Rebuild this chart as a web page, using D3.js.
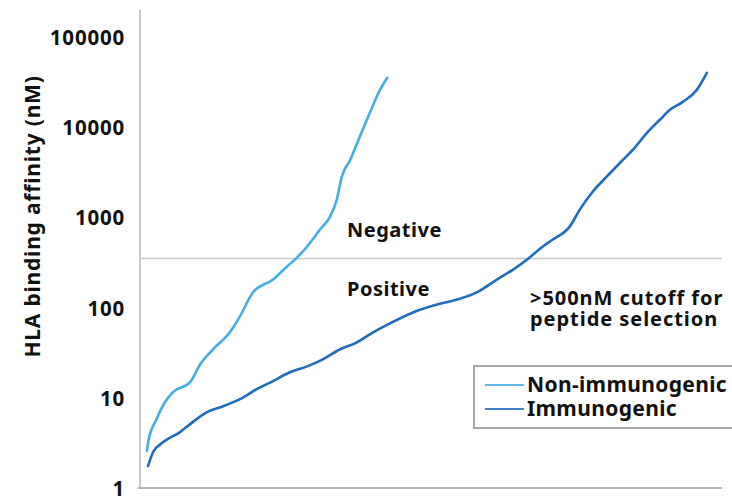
<!DOCTYPE html>
<html>
<head>
<meta charset="utf-8">
<script src="https://cdn.jsdelivr.net/npm/d3@7"></script>
<style>
  html, body { margin: 0; padding: 0; background: #fff; }
  svg { display: block; }
  text { font-family: "Noto Sans", "Open Sans", sans-serif; fill: #111; }
</style>
</head>
<body>
<svg id="chart" width="732" height="500"></svg>
<script>
// ---- data (rank position in %, binding affinity in nM) ----
const nonImmunoRank = [0, 0.2, 1.7, 3.2, 4.6, 7.7, 9.5, 11.8, 14.8, 16.6, 18.9, 22.5, 25.0, 26.8, 28.6, 30.9, 32.7, 33.9, 34.8, 36.3, 38.0, 39.8, 41.6, 42.9];
const nonImmunoNM   = [2.65, 3.31, 5.95, 9.17, 11.8, 15.3, 24.1, 35.4, 54.6, 82, 151, 210, 293, 368, 488, 752, 1047, 1614, 2899, 4467, 8035, 14800, 26600, 36100];

const immunoRank = [0.2, 1.1, 2.9, 5.9, 7.7, 10.7, 13.6, 16.6, 19.6, 22.5, 25.5, 28.6, 31.4, 34.5, 37.5, 40.4, 43.4, 47.5, 51.8, 55.4, 58.9, 62.5, 65.4, 67.9, 70.7, 72.5, 75.5, 77.3, 79.6, 82.1, 84.5, 86.8, 89.3, 91.6, 93.4, 95.7, 98.2, 100];
const immunoNM   = [1.80, 2.57, 3.31, 4.27, 5.24, 7.11, 8.28, 9.90, 12.8, 15.7, 19.7, 22.9, 27.4, 35.4, 42.3, 54.6, 68.6, 90.7, 111, 126, 151, 210, 271, 350, 488, 583, 811, 1251, 1977, 2899, 4140, 5770, 8890, 12400, 16000, 19600, 26600, 41000];

const yTicks = [1, 10, 100, 1000, 10000, 100000];
const cutoffNM = 360;
const seriesNames = ["Non-immunogenic", "Immunogenic"];
const seriesColors = ["#45ade6", "#1d6cc0"];
const yTitle = "HLA binding affinity (nM)";
const regionLabels = ["Negative", "Positive"];
const noteLines = [">500nM cutoff for", "peptide selection"];

// ---- drawing ----
const svg = d3.select("#chart");
const x = d3.scaleLinear().domain([-1.25, 102.7]).range([140, 722]);
const y = d3.scaleLog().domain([1, 100000]).range([489, 38]);

const axisX = x(-1.25);
const plotRight = x(102.7);
const axisBottom = 488;
const axisTop = y(100000) - 28;

// axes frame
svg.append("line").attr("x1", axisX).attr("x2", axisX).attr("y1", axisTop).attr("y2", axisBottom)
  .attr("stroke", "#c9c9c9").attr("stroke-width", 2);
svg.append("line").attr("x1", axisX - 2).attr("x2", plotRight).attr("y1", axisBottom).attr("y2", axisBottom)
  .attr("stroke", "#b5b5b5").attr("stroke-width", 2);

// cutoff line
svg.append("line").attr("x1", axisX).attr("x2", plotRight).attr("y1", y(cutoffNM)).attr("y2", y(cutoffNM))
  .attr("stroke", "#c6c6c6").attr("stroke-width", 1.5);

// y axis labels
const yAxis = d3.axisLeft(y).tickValues(yTicks).tickSize(0).tickPadding(15).tickFormat(d3.format("d"));
const gy = svg.append("g").attr("transform", `translate(${axisX},0)`).call(yAxis);
gy.select(".domain").remove();
gy.selectAll("text").attr("font-size", 20.5).attr("font-weight", 700).attr("letter-spacing", 0.8)
  .attr("font-family", "'Noto Sans', sans-serif").attr("fill", "#111");

// y title
svg.append("text").attr("transform", `translate(40,${(y(100000) + y(1)) / 2 - 47}) rotate(-90)`)
  .attr("text-anchor", "middle").attr("font-size", 21).attr("font-weight", 700)
  .attr("letter-spacing", 0.8).text(yTitle);

// series lines
const line = d3.line().x(d => x(d[0])).y(d => y(d[1])).curve(d3.curveMonotoneX);
const series = [
  d3.zip(nonImmunoRank, nonImmunoNM),
  d3.zip(immunoRank, immunoNM)
];
series.forEach((s, i) => {
  svg.append("path").datum(s).attr("d", line).attr("fill", "none")
    .attr("stroke", seriesColors[i]).attr("stroke-width", 2.6)
    .attr("stroke-linejoin", "round").attr("stroke-linecap", "round");
});

// region labels
svg.append("text").attr("x", 347).attr("y", y(cutoffNM) - 21).attr("font-size", 20).attr("font-weight", 700)
  .attr("letter-spacing", 0.5).text(regionLabels[0]);
svg.append("text").attr("x", 347).attr("y", y(cutoffNM) + 38).attr("font-size", 20).attr("font-weight", 700)
  .attr("letter-spacing", 0.5).text(regionLabels[1]);

// note
noteLines.forEach((t, i) => {
  svg.append("text").attr("x", 530).attr("y", 305 + i * 21).attr("font-size", 20).attr("font-weight", 700)
    .attr("letter-spacing", 0.95).text(t);
});

// legend
const lg = svg.append("g");
lg.append("rect").attr("x", 474).attr("y", 366).attr("width", 270).attr("height", 62)
  .attr("fill", "#fff").attr("stroke", "#a8a8a8").attr("stroke-width", 2);
seriesNames.forEach((n, i) => {
  const cy = 385 + i * 24;
  lg.append("line").attr("x1", 485).attr("x2", 524).attr("y1", cy).attr("y2", cy)
    .attr("stroke", seriesColors[i]).attr("stroke-width", 2).attr("opacity", 0.85);
  lg.append("text").attr("x", 527).attr("y", cy + 7).attr("font-size", 21).attr("font-weight", 700)
    .attr("letter-spacing", 0.35).text(n);
});
</script>
</body>
</html>
